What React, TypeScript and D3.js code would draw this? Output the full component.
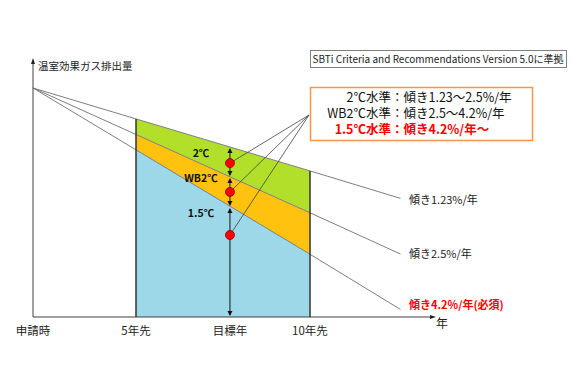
import React from 'react';
import * as d3 from 'd3';

// 年 (0 = 申請時)
const tickYears = [0, 5, 7.7, 10];
const tickLabels = ['申請時', '5年先', '目標年', '10年先'];

// 排出量 (申請時 = 100) at 0, 5, 10 and the end of the line
const lineYears = [0, 5, 10, 12.6];
const line123 = [100, 86.5, 63.8, 51.8];
const line25 = [100, 79.7, 45.5, 27.5];
const line42 = [100, 73.0, 27.4, 3.3];
const lineLabels = ['傾き1.23%/年', '傾き2.5%/年', '傾き4.2%/年(必須)'];

// markers at 目標年
const targetYear = 7.7;
const bandTops = [74.2, 61.1, 48.0];
const bandBottoms = [61.1, 48.0, 0];
const markerValues = [67.2, 54.6, 35.8];
const bandLabels = ['2℃', 'WB2℃', '1.5℃'];

const legendPrefix = ['2℃水準', 'WB2℃水準', '1.5℃水準'];
const legendRest = ['：傾き1.23～2.5%/年', '：傾き2.5～4.2%/年', '：傾き4.2%/年～'];

const FONT = '"Noto Sans CJK JP", "Noto Sans", sans-serif';

function Arrow({ x, y, dir }) {
    const s = dir === 'up' ? -1 : 1;
    return <path d={`M${x - 2.5},${y - s * 5}L${x + 2.5},${y - s * 5}L${x},${y}Z`} fill="#111" />;
}

export default function App() {
    const width = 577;
    const height = 385;

    const x = d3.scaleLinear([0, 5, 10], [33, 136, 310]);
    const y = d3.scaleLinear([0, 100], [317, 88]);

    const lines = [line123, line25, line42];
    const path = d3.line((d, i) => x(lineYears[i]), y);

    // values at 5 and 10 years (index 1 and 2)
    const area = (top, bottom) =>
        d3.area((d, i) => x(lineYears[i + 1]), (d, i) => y(bottom ? bottom[i + 1] : 0), (d, i) => y(top[i + 1]))([0, 1]);

    const fills = [
        { top: line123, bottom: line25, color: '#b2e02a' },
        { top: line25, bottom: line42, color: '#ffc20e' },
        { top: line42, bottom: null, color: '#9dd8e8' },
    ];

    const tx = x(targetYear);
    const hub = [309, 115];
    const labelShift = [6, 4, 0];

    return (
        <svg width={width} height={height} style={{ position: 'absolute', left: 0, top: 0 }} fontFamily={FONT}>
            <rect width={width} height={height} fill="#fff" />

            {fills.map((f, i) => (
                <path key={i} d={area(f.top, f.bottom)} fill={f.color} />
            ))}

            {lines.map((l, i) => (
                <path key={i} d={path(l)} fill="none" stroke="#7f7f7f" strokeWidth="1" />
            ))}

            {[5, 10].map((yr, i) => (
                <line key={yr} x1={x(yr)} x2={x(yr)} y1={y(line123[i + 1])} y2={y(0)} stroke="#333" strokeWidth="1.5" />
            ))}

            {/* axes */}
            <line x1={x(0)} x2={x(0)} y1={y(0)} y2={62} stroke="#404040" strokeWidth="1" />
            <path d={`M${x(0) - 2},64L${x(0) + 2},64L${x(0)},58Z`} fill="#222" />
            <line x1={x(0)} x2={430} y1={y(0)} y2={y(0)} stroke="#404040" strokeWidth="1" />
            <path d={`M430,${y(0) - 2}L430,${y(0) + 2}L436,${y(0)}Z`} fill="#222" />
            <text x={38} y={70} fontSize="10.5" fill="#222">温室効果ガス排出量</text>
            <text x={442} y={328} fontSize="12" fill="#222" textAnchor="middle">年</text>

            {tickYears.map((t, i) => (
                <text key={i} x={x(t)} y={335} fontSize="11.5" fill="#222" textAnchor="middle">{tickLabels[i]}</text>
            ))}

            {/* arrows at 目標年 */}
            {bandTops.map((t, i) => (
                <g key={i}>
                    <line x1={tx} x2={tx} y1={y(t) + 2} y2={y(bandBottoms[i]) - 2} stroke="#111" strokeWidth="1" />
                    <Arrow x={tx} y={y(t) + 1} dir="up" />
                    <Arrow x={tx} y={y(bandBottoms[i]) - 1} dir="down" />
                </g>
            ))}

            {markerValues.map((v, i) => (
                <line key={i} x1={tx} y1={y(v)} x2={hub[0]} y2={hub[1]} stroke="#404040" strokeWidth="0.8" />
            ))}
            {markerValues.map((v, i) => (
                <circle key={i} cx={tx} cy={y(v)} r={4.5} fill="#ff0000" stroke="#8b0000" strokeWidth="0.8" />
            ))}

            {bandLabels.map((s, i) => (
                <text key={i} x={201} y={[157, 182, 217][i]} fontSize="10.5" fontWeight="bold" fill="#111" textAnchor="middle">{s}</text>
            ))}

            {lineLabels.map((s, i) => (
                <text
                    key={i}
                    x={409}
                    y={y(lines[i][3]) + labelShift[i]}
                    fontSize="11"
                    fontWeight={i === 2 ? 'bold' : 'normal'}
                    fill={i === 2 ? '#ff0000' : '#222'}
                >
                    {s}
                </text>
            ))}

            {/* SBTi note */}
            <rect x={310.5} y={50.5} width={256} height={17} fill="#fff" stroke="#808080" strokeWidth="1" />
            <text x={438} y={63} fontSize="10" fill="#222" textAnchor="middle">SBTi Criteria and Recommendations Version 5.0に準拠</text>

            {/* legend box */}
            <rect x={310.5} y={87.5} width={222} height={53} fill="#fff" stroke="#f79646" strokeWidth="1.5" />
            {legendPrefix.map((p, i) => (
                <g
                    key={i}
                    fontSize="12.5"
                    fontWeight={i === 2 ? 'bold' : 'normal'}
                    fill={i === 2 ? '#ff0000' : '#111'}
                >
                    <text x={391} y={102 + i * 16} textAnchor="end">{p}</text>
                    <text x={391} y={102 + i * 16}>{legendRest[i]}</text>
                </g>
            ))}
        </svg>
    );
}
